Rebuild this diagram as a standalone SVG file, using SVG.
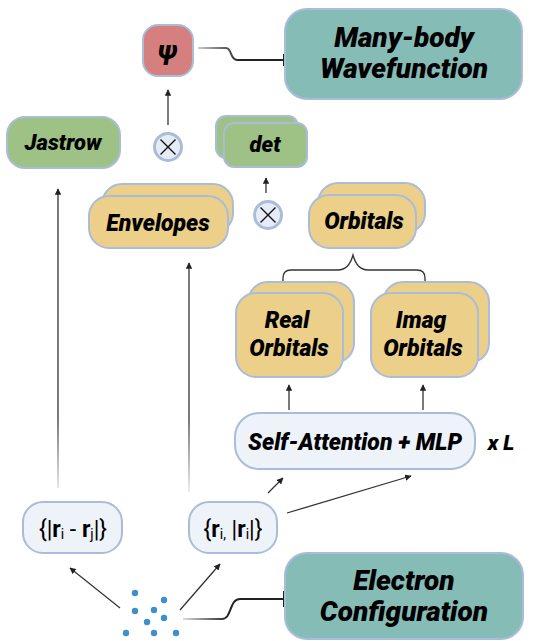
<svg xmlns="http://www.w3.org/2000/svg" width="538" height="641" viewBox="0 0 538 641">
<style>
.bx{stroke:#a9bcd9;stroke-width:2}
.teal{fill:#86bcb6}
.grn{fill:#9ec285}
.yel{fill:#ecd08a}
.lt{fill:#eef3fa}
.red{fill:#d67f7f}
.t{font-family:Roboto,"Liberation Sans",sans-serif;font-weight:900;font-style:italic;fill:#000;text-anchor:middle}
.m{font-family:Roboto,"Liberation Sans",sans-serif;fill:#000;text-anchor:middle}
.ln{stroke:#333;stroke-width:1.3;fill:none}
.dot{fill:#3f8fcc}
.ot{fill:#e6ecf6;stroke:#a9bcd9;stroke-width:3}
.ox{stroke:#111;stroke-width:1.4}
</style>
<defs>
<marker id="ah" viewBox="0 0 10 10" refX="9" refY="5" markerWidth="5" markerHeight="5" orient="auto-start-reverse">
<path d="M0,0 L10,5 L0,10 z" fill="#222"/>
</marker>
<linearGradient id="g1" gradientUnits="userSpaceOnUse" x1="198" y1="0" x2="240" y2="0">
<stop offset="0" stop-color="#ccc"/><stop offset="1" stop-color="#222"/>
</linearGradient>
<linearGradient id="g2" gradientUnits="userSpaceOnUse" x1="183" y1="0" x2="228" y2="0">
<stop offset="0" stop-color="#ddd"/><stop offset="1" stop-color="#222"/>
</linearGradient>
<linearGradient id="g3" gradientUnits="userSpaceOnUse" x1="0" y1="490" x2="0" y2="420">
<stop offset="0" stop-color="#ddd"/><stop offset="1" stop-color="#333"/>
</linearGradient>
</defs>

<g id="connectors">
<path d="M198,48 H226 C232,48 230,60 237,60 H283" stroke="url(#g1)" stroke-width="2" fill="none"/>
<line x1="284" y1="54" x2="284" y2="66" stroke="#222" stroke-width="2"/>
<line class="ln" x1="168" y1="125" x2="168" y2="90" marker-end="url(#ah)"/>
<line class="ln" x1="266" y1="193" x2="266" y2="178" marker-end="url(#ah)"/>
<line x1="58" y1="488" x2="58" y2="189" stroke="url(#g3)" stroke-width="1.3" marker-end="url(#ah)"/>
<line x1="189" y1="492" x2="189" y2="263" stroke="url(#g3)" stroke-width="1.3" marker-end="url(#ah)"/>
<path class="ln" d="M283,287 V278 Q283,270 291,270 H338 Q349,270 353,255 Q357,270 368,270 H417 Q425,270 425,278 V287" stroke-width="2"/>
<line class="ln" x1="289" y1="410" x2="289" y2="385" marker-end="url(#ah)"/>
<line class="ln" x1="423" y1="410" x2="423" y2="385" marker-end="url(#ah)"/>
<line class="ln" x1="268" y1="493" x2="283" y2="478" marker-end="url(#ah)"/>
<line class="ln" x1="287" y1="513" x2="411" y2="476" marker-end="url(#ah)"/>
<line class="ln" x1="120" y1="608" x2="70" y2="568" marker-end="url(#ah)"/>
<line class="ln" x1="180" y1="610" x2="220" y2="564" marker-end="url(#ah)"/>
<path d="M183,619 H222 C232,619 229,599 240,599 H283" stroke="url(#g2)" stroke-width="2" fill="none"/>
<line x1="284" y1="591" x2="284" y2="607" stroke="#222" stroke-width="2"/>
</g>

<g id="psi">
<rect class="bx red" x="143" y="25" width="50" height="51" rx="15"/>
<text class="t" x="168" y="59" font-size="26">ψ</text>
</g>

<g id="many-body">
<rect class="bx teal" x="285" y="9" width="237" height="90" rx="22"/>
<text class="t" x="404" y="47" font-size="28">Many-body</text>
<text class="t" x="404" y="78" font-size="28">Wavefunction</text>
</g>

<g id="jastrow">
<rect class="bx grn" x="7" y="117" width="113" height="51" rx="18"/>
<text class="t" x="63" y="150" font-size="22">Jastrow</text>
</g>

<g id="otimes1">
<circle class="ot" cx="168" cy="147" r="13.5"/>
<path class="ox" d="M160.5,139.5 L175.5,154.5 M175.5,139.5 L160.5,154.5"/>
</g>

<g id="det">
<rect class="bx grn" x="216" y="116" width="82" height="42" rx="10"/>
<rect class="bx grn" x="224" y="123" width="83" height="44" rx="10"/>
<text class="t" x="265" y="152" font-size="22">det</text>
</g>

<g id="envelopes">
<rect class="bx yel" x="102" y="184" width="131" height="49" rx="20"/>
<rect class="bx yel" x="89" y="196" width="139" height="52" rx="20"/>
<text class="t" x="158" y="231" font-size="23">Envelopes</text>
</g>

<g id="otimes2">
<circle class="ot" cx="268" cy="215" r="13.5"/>
<path class="ox" d="M260.5,207.5 L275.5,222.5 M275.5,207.5 L260.5,222.5"/>
</g>

<g id="orbitals">
<rect class="bx yel" x="318" y="183" width="107" height="50" rx="20"/>
<rect class="bx yel" x="309" y="195" width="107" height="53" rx="20"/>
<text class="t" x="364" y="229" font-size="23">Orbitals</text>
</g>

<g id="real-orbitals">
<rect class="bx yel" x="248" y="282" width="106" height="81" rx="20"/>
<rect class="bx yel" x="236" y="293" width="107" height="84" rx="20"/>
<text class="t" x="287" y="328" font-size="23">Real</text>
<text class="t" x="289" y="356" font-size="23">Orbitals</text>
</g>

<g id="imag-orbitals">
<rect class="bx yel" x="383" y="282" width="106" height="81" rx="20"/>
<rect class="bx yel" x="371" y="293" width="107" height="84" rx="20"/>
<text class="t" x="421" y="328" font-size="23">Imag</text>
<text class="t" x="423" y="356" font-size="23">Orbitals</text>
</g>

<g id="self-attention">
<rect class="bx lt" x="235" y="413" width="240" height="56" rx="24"/>
<text class="t" x="355" y="450" font-size="23">Self-Attention + MLP</text>
<text class="t" x="501" y="450" font-size="21">x L</text>
</g>

<g id="pair-dist">
<rect class="bx lt" x="23" y="502" width="99" height="51" rx="20"/>
<text class="m" x="73" y="537" font-size="23">{|<tspan font-weight="bold">r</tspan><tspan font-size="14" dy="2">i</tspan><tspan dy="-2"> - </tspan><tspan font-weight="bold">r</tspan><tspan font-size="14" dy="2">j</tspan><tspan dy="-2">|}</tspan></text>
</g>

<g id="single">
<rect class="bx lt" x="189" y="502" width="88" height="51" rx="20"/>
<text class="m" x="233" y="537" font-size="23">{<tspan font-weight="bold">r</tspan><tspan font-size="14" dy="2">i,</tspan><tspan dy="-2"> |</tspan><tspan font-weight="bold">r</tspan><tspan font-size="14" dy="2">i</tspan><tspan dy="-2">|}</tspan></text>
</g>

<g id="electrons">
<circle class="dot" cx="135" cy="593" r="3.2"/>
<circle class="dot" cx="164" cy="600" r="3.2"/>
<circle class="dot" cx="135" cy="611" r="3.2"/>
<circle class="dot" cx="154" cy="610" r="3.2"/>
<circle class="dot" cx="164" cy="618" r="3.2"/>
<circle class="dot" cx="147" cy="622" r="3.2"/>
<circle class="dot" cx="126" cy="633" r="3.2"/>
<circle class="dot" cx="154" cy="633" r="3.2"/>
<circle class="dot" cx="176" cy="633" r="3.2"/>
</g>

<g id="electron-config">
<rect class="bx teal" x="285" y="553" width="238" height="86" rx="22"/>
<text class="t" x="404" y="590" font-size="28">Electron</text>
<text class="t" x="404" y="621" font-size="28">Configuration</text>
</g>
</svg>
